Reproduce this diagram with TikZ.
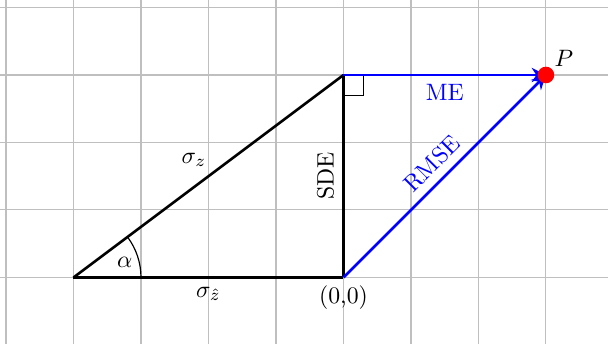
\documentclass[tikz,border=0pt]{standalone}
\usetikzlibrary{arrows.meta,calc}
\begin{document}
\begin{tikzpicture}[
  gridline/.style={draw=gray!50, line width=0.45pt},
  side/.style={draw=black, line width=1.1pt},
  vec/.style={draw=blue, line width=1.1pt, -{Stealth[length=6pt,width=6pt]}},
  lbl/.style={inner sep=3.4pt}
]
\useasboundingbox (-5.089,-0.985) rectangle (3.919,4.111);
\draw[gridline] (-5.5,-1.5) grid (4.5,4.111);
\coordinate (A) at (-4,0);
\coordinate (O) at (0,0);
\coordinate (T) at (0,3);
\coordinate (P) at (3,3);
% right angle mark
\draw[black, line width=0.5pt] ($(T)+(0,-0.3)$) -- ++(0.3,0) -- ++(0,0.3);
% angle arc
\draw[black, line width=0.5pt] ([shift={(0:1)}]A) arc[start angle=0, end angle=36.87, radius=1];
\node[lbl] (alpha) at (-3.24,0.23) {$\alpha$};
% triangle sides
\draw[side] (A) -- node[below, lbl] (sz) {$\sigma_{\hat z}$} (O);
\draw[side] (A) -- node[above left, lbl, pos=0.5, xshift=3pt] (sy) {$\sigma_z$} (T);
\draw[side] (O) -- node[above, sloped, lbl] (sde) {SDE} (T);
% vectors
\draw[vec] (T) -- node[below, blue, lbl] (me) {ME} (P);
\draw[vec] (O) -- node[above, sloped, blue, lbl] (rmse) {RMSE} (P);
\fill[red] (P) circle[radius=3.5pt];
\node[above right, lbl] (plab) at (P) {$P$};
\node[below, lbl] (olab) at (O) {(0,0)};
\end{tikzpicture}
\end{document}
